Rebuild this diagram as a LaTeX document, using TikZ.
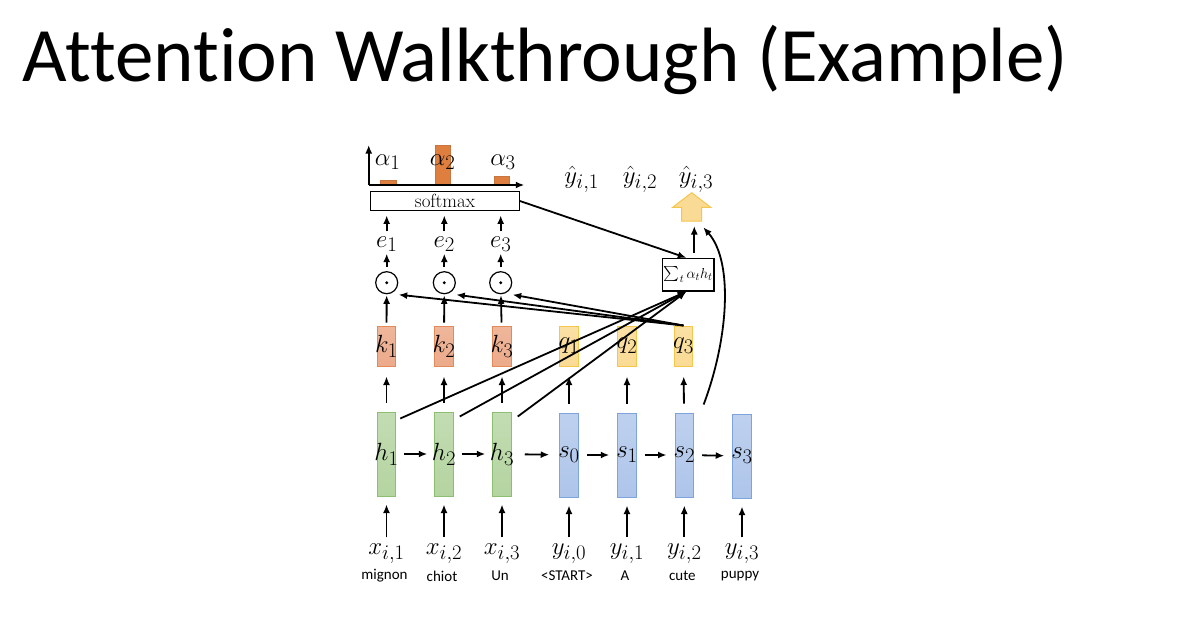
\documentclass[tikz,border=0pt]{standalone}
\usepackage{amsmath,amssymb}
\usepackage{fontspec}
\setsansfont{Carlito}[Ligatures=NoCommon]
\usetikzlibrary{arrows.meta}
\definecolor{cgreen}{HTML}{B4D4A0}
\definecolor{cgreend}{HTML}{8DBE72}
\definecolor{cblue}{HTML}{AEC5EA}
\definecolor{cblued}{HTML}{7EA5DB}
\definecolor{csalmon}{HTML}{ECAA8A}
\definecolor{csalmond}{HTML}{E3895A}
\definecolor{cyellow}{HTML}{FADB95}
\definecolor{cyellowd}{HTML}{F5C64C}
\definecolor{corange}{HTML}{DE7E3F}
\definecolor{corangd}{HTML}{C8753F}

\begin{document}
\begin{tikzpicture}[x=1pt,y=-1pt,
  >={Latex[length=8.5pt,width=7pt]},
  every path/.style={line width=1.8pt},
  lbl/.style={font=\fontsize{30}{32}\selectfont,inner sep=1pt},
  word/.style={font=\sffamily\fontsize{15}{16}\selectfont,inner sep=1pt},
  hbox/.style={draw=cgreend,top color=cgreen!80,bottom color=cgreen,line width=1pt,
    minimum width=18.5pt,minimum height=84pt,inner sep=0pt},
  sbox/.style={hbox,draw=cblued,top color=cblue!80,bottom color=cblue},
  kbox/.style={hbox,draw=csalmond,top color=csalmon!85,bottom color=csalmon,minimum height=40pt},
  qbox/.style={kbox,draw=cyellowd,top color=cyellow!85,bottom color=cyellow},
  dotop/.style={draw,circle,minimum size=22pt,inner sep=0pt,line width=1.2pt},
  bar/.style={fill=corange,draw=corangd,line width=0.8pt}]
  \useasboundingbox (0,0) rectangle (1184,619);
  \node[font=\sffamily\fontsize{77}{80}\selectfont,anchor=base west,inner sep=0pt]
    (title) at (22,81) {Attention Walkthrough (Example)};

  % encoder and decoder states
  \node[hbox] (h1) at (386.5,454) {};
  \node[hbox] (h2) at (444,454) {};
  \node[hbox] (h3) at (502,454) {};
  \node[sbox] (s0) at (569,455) {};
  \node[sbox] (s1) at (627,455) {};
  \node[sbox] (s2) at (684.3,455) {};
  \node[sbox] (s3) at (742,456) {};
  \foreach \n/\t in {h1/h_1,h2/h_2,h3/h_3,s0/s_0,s1/s_1,s2/s_2,s3/s_3}
    \node[lbl] at (\n) {$\t$};

  % inputs
  \foreach \n/\t/\w in {h1/x_{i,1}/mignon,h2/x_{i,2}/chiot,h3/x_{i,3}/Un,
      s0/y_{i,0}/{<START>},s1/y_{i,1}/A,s2/y_{i,2}/cute,s3/y_{i,3}/puppy}{
    \node[lbl,anchor=base] (in\n) at (\n |- 0,554) {$\t$};
    \node[word] (w\n) at ([xshift=-2pt]\n |- 0,576) {\w};
    \draw[->,shorten <=4pt,shorten >=8pt] (in\n) -- (\n);
  }

  % recurrence
  \draw[->,shorten <=8pt,shorten >=7pt] (h1) -- (h2);
  \draw[->,shorten <=8pt,shorten >=7pt] (h2) -- (h3);
  \draw[->,shorten <=13pt,shorten >=10pt] (h3) -- (s0);
  \draw[->,shorten <=8pt,shorten >=8pt] (s0) -- (s1);
  \draw[->,shorten <=8pt,shorten >=8pt] (s1) -- (s2);
  \draw[->,shorten <=8pt,shorten >=8pt] (s2) -- (s3);

  % keys and queries
  \node[kbox] (k1) at (386.5,346) {};
  \node[kbox] (k2) at (444,346) {};
  \node[kbox] (k3) at (502,346) {};
  \node[qbox] (q1) at (569,346) {};
  \node[qbox] (q2) at (627,346) {};
  \node[qbox] (q3) at (683.5,346) {};
  \foreach \n/\t/\m in {k1/k_1/h1,k2/k_2/h2,k3/k_3/h3,q1/q_1/s0,q2/q_2/s1,q3/q_3/s2}{
    \node[lbl] at (\n) {$\t$};
    \draw[->,shorten <=9pt,shorten >=10pt] (\m) -- (\n);
  }

  % scores
  \foreach \i/\x in {1/386.7,2/444.3,3/500.7}{
    \node[dotop] (o\i) at (\x,282.7) {};
    \fill (o\i) circle (1.6pt);
    \draw[->,shorten <=3pt,shorten >=1pt] (k\i) -- (o\i);
    \node[lbl,anchor=base] (e\i) at (\x,247) {$e_{\i}$};
    \draw[->,shorten <=4pt] (o\i) -- (e\i);
    \draw[->] (q3.north) -- ([xshift=12pt,yshift=-12pt]o\i.center);
  }

  % softmax and weights
  \node[draw,line width=1.2pt,minimum width=148.6pt,minimum height=19.7pt,inner sep=0pt,
    font=\fontsize{19}{20}\selectfont] (soft) at (445,201) {softmax};
  \foreach \i in {1,2,3}
    \draw[->,shorten <=3pt,shorten >=4pt] (e\i) -- (e\i |- soft.south);
  \coordinate (orig) at (368.7,185);
  \draw[bar] (380.7,185) rectangle (396,180);
  \draw[bar] (435,185) rectangle (450.7,145.7);
  \draw[bar] (494.3,185) rectangle (509.3,176);
  \draw[->] (orig) -- ++(0,-40);
  \draw[->] (orig) -- ++(155.6,0);
  \node[lbl,anchor=base] (a1) at (387.7,165) {$\alpha_1$};
  \node[lbl,anchor=base] (a2) at (442.7,165) {$\alpha_2$};
  \node[lbl,anchor=base] (a3) at (503,165) {$\alpha_3$};

  % context and outputs
  \node[draw,line width=1.2pt,minimum width=51.3pt,minimum height=32.7pt,inner sep=1pt,
    font=\fontsize{15}{16}\selectfont] (ctx) at (688.3,274.7) {$\sum_t \alpha_t h_t$};
  \draw[->] (soft.east) -- ([xshift=-2pt]ctx.north);
  \foreach \n/\a/\b in {h1/4/7,h2/6/5,h3/6/5}
    \draw[->] ([xshift=\a pt,yshift=-\b pt]\n.north east) -- ([xshift=-2pt]ctx.south);
  \filldraw[fill=cyellow,draw=cyellowd,line width=1pt] (691.7,192.7) -- (710.7,207.3)
    -- (701.7,207.3) -- (701.7,221) -- (681.7,221) -- (681.7,207.3) -- (672.7,207.3) -- cycle;
  \coordinate (yin) at (694.3,226);
  \coordinate (ytip) at (703.3,227.3);
  \draw[->,shorten <=5pt] ([xshift=6pt]ctx.north) -- (yin);
  \draw[->] ([xshift=9.6pt,yshift=8pt]s2.north east) .. controls (728,340) and (734,262) .. (ytip);
  \node[lbl,anchor=base] (yh1) at (581.7,183) {$\hat{y}_{i,1}$};
  \node[lbl,anchor=base] (yh2) at (640,183) {$\hat{y}_{i,2}$};
  \node[lbl,anchor=base] (yh3) at (696,183) {$\hat{y}_{i,3}$};
\end{tikzpicture}
\end{document}
